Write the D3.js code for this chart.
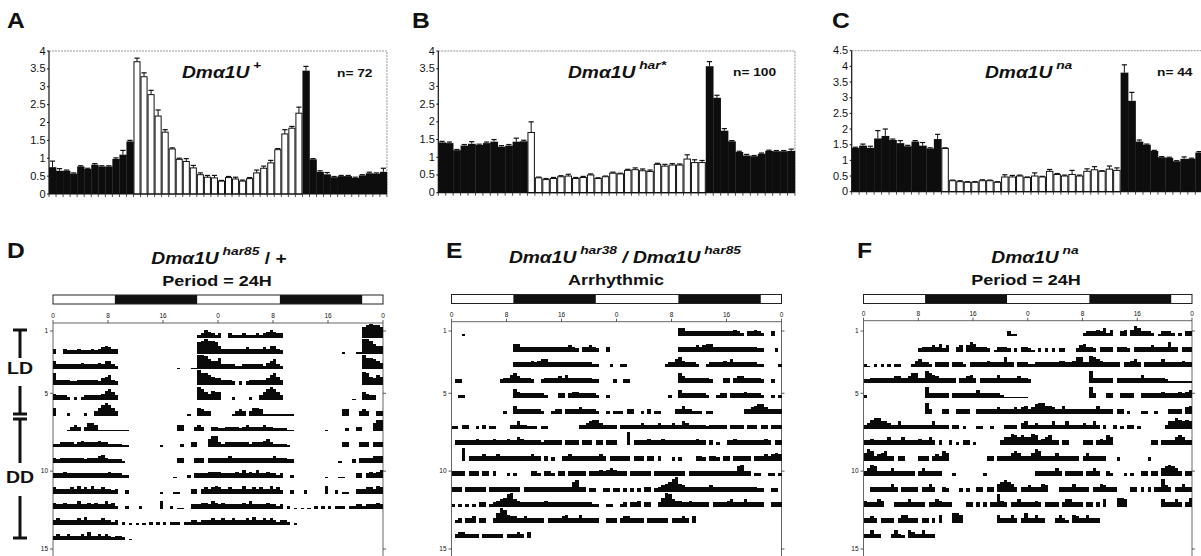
<!DOCTYPE html>
<html><head><meta charset="utf-8">
<script src="https://cdn.jsdelivr.net/npm/d3@7"></script>
<style>
body{margin:0;background:#fff}
svg{display:block}
text{font-family:"Liberation Sans",Arial,Helvetica,sans-serif;fill:#111}
</style>
</head><body>
<svg id="c" width="1201" height="556"></svg>
<script>
// ---------------- DATA ----------------
// Top histograms: 48 half-hour bins (ZT), first 12 dark, 24 light, last 12 dark
const binLabels = d3.range(48);
const lightBins = [12, 36];

const aValues = [0.75,0.65,0.65,0.57,0.77,0.70,0.82,0.77,0.77,0.98,1.10,1.47,
  3.70,3.28,2.78,2.18,1.73,1.26,0.97,0.91,0.73,0.54,0.47,0.45,0.36,0.46,0.42,0.36,0.43,0.59,0.72,0.87,1.24,1.68,1.84,2.26,
  3.45,0.97,0.62,0.55,0.47,0.50,0.50,0.45,0.52,0.58,0.57,0.62];
const aErrors = [0.17,0.06,0.02,0.02,0.02,0.02,0.03,0.02,0.02,0.03,0.12,0.03,
  0.10,0.11,0.12,0.17,0.07,0.03,0.03,0.08,0.07,0.05,0.05,0.07,0.02,0.03,0.05,0.03,0.03,0.08,0.06,0.07,0.03,0.12,0.05,0.17,
  0.12,0.02,0.03,0.05,0.02,0.02,0.02,0.02,0.02,0.03,0.02,0.10];

const bValues = [1.42,1.40,1.20,1.33,1.38,1.35,1.40,1.44,1.30,1.33,1.44,1.45,
  1.70,0.42,0.37,0.40,0.45,0.47,0.40,0.43,0.50,0.40,0.45,0.55,0.53,0.63,0.65,0.62,0.60,0.80,0.75,0.78,0.78,0.95,0.85,0.85,
  3.57,2.68,1.75,1.45,1.15,1.05,1.03,1.10,1.18,1.17,1.17,1.18];
const bErrors = [0.03,0.03,0.02,0.03,0.06,0.02,0.03,0.06,0.03,0.03,0.10,0.03,
  0.30,0.02,0.03,0.03,0.03,0.05,0.03,0.03,0.03,0.02,0.02,0.03,0.02,0.03,0.05,0.05,0.04,0.03,0.05,0.04,0.03,0.12,0.08,0.06,
  0.13,0.07,0.06,0.02,0.02,0.03,0.02,0.02,0.02,0.02,0.02,0.05];

const cValues = [1.40,1.47,1.40,1.70,1.78,1.65,1.55,1.45,1.60,1.47,1.38,1.68,
  1.38,0.35,0.32,0.30,0.30,0.35,0.35,0.30,0.47,0.47,0.50,0.45,0.50,0.47,0.65,0.55,0.50,0.55,0.50,0.65,0.70,0.65,0.72,0.68,
  3.80,2.90,1.60,1.50,1.30,1.10,1.08,0.97,1.05,1.05,1.25,1.20];
const cErrors = [0.02,0.05,0.05,0.25,0.22,0.03,0.08,0.03,0.03,0.10,0.02,0.15,
  0.02,0.02,0.03,0.02,0.02,0.03,0.02,0.02,0.07,0.05,0.03,0.02,0.10,0.02,0.06,0.03,0.03,0.13,0.03,0.08,0.10,0.02,0.10,0.08,
  0.25,0.27,0.05,0.02,0.02,0.02,0.02,0.02,0.06,0.02,0.03,0.03];

const abTicks = [0,0.5,1,1.5,2,2.5,3,3.5,4];
const cTicks = [0,0.5,1,1.5,2,2.5,3,3.5,4,4.5];

// Actograms: one string per day, 48 half-hour bins, activity level 0-9
const dDays = [
 "000000 000000 000000 000000 000000 000000 000000 235432",
 "300322 232223 234543 300000 000000 000000 000000 789887",
 "533333 334333 343553 200000 000000 000000 100011 998655",
 "733332 233333 324563 200000 000000 000000 000000 977654",
 "433320 202333 334675 300000 000000 000000 000000 875465",
 "500020 000200 357875 300000 000000 000000 000100 543300",
 "000013 430355 411111 111100 000000 000000 440003 430033",
 "223333 234333 343322 221100 000000 010000 020033 000577",
 "323333 333233 345322 221000 000000 000000 330003 330333",
 "333433 333333 333343 332200 000000 000001 000203 333444",
 "433334 353435 334332 300200 000000 010001 100033 034345",
 "433433 353343 433534 200200 020000 050020 110033 344354",
 "343333 343533 334332 302010 101020 202022 202233 233343",
 "343343 334353 343432 332010 000000 000000 000000 000000",
 "000000 000000 000000 000000 000000 000000 000000 000000"];
const eDays = [
 "000100 000000 000000 000000 000000 000000 000000 000000",
 "000000 000000 000000 553333 333333 333343 203343 200300",
 "000000 000000 000000 333334 345533 333333 333332 200020",
 "022000 000000 002335 643332 002333 343533 333332 200002",
 "002200 000000 000000 643333 333200 033034 433333 200200",
 "000000 000000 000200 533333 332002 330333 343333 200202",
 "220330 020302 200003 353322 202200 000000 033456 643333",
 "033333 343333 433343 354333 332333 330333 303330 330333",
 "000803 333433 343333 333334 330302 003343 333333 343033",
 "333303 330330 300020 200003 320332 033033 333033 343454",
 "333033 333303 333333 330333 333333 333336 733022 002202",
 "202020 203302 345689 543333 333433 333333 333332 200220",
 "023033 403300 369854 433433 333033 334533 353333 300333",
 "034433 330333 333033 343040 000000 000000 000000 000000",
 "000000 000000 000000 000000 000000 000000 000000 000000"];
const fDays = [
 "000000 000000 000000 000000 000000 000000 000000 311000",
 "000000 000000 000023 334352 400340 465333 201333 202033",
 "210202 020220 002453 320333 303332 033333 433336 330333",
 "223333 333443 346633 765433 333033 453033 333533 333433",
 "200000 000000 000000 733333 303333 333533 333321 111111",
 "000000 000000 000000 730003 300333 300333 333433 334345",
 "346775 543353 333333 335333 303302 000220 020003 333045",
 "334333 353335 333343 353030 030203 302000 000035 576565",
 "576345 633033 000033 303436 500000 000000 330333 356533",
 "357633 335333 333035 333330 002000 000002 000000 000000",
 "003333 335303 333303 353003 200020 200330 330567 653033",
 "433354 000333 353333 033543 330000 330303 033843 033533",
 "334303 333035 533303 303050 006650 000000 000533 353036",
 "335330 003532 054335 333000 000000 000000 000000 000000",
 "000000 000000 000000 000000 000000 000000 000000 000000"];

const lightSchedule = [[0,9,"light"],[9,21,"dark"],[21,33,"light"],[33,45,"dark"],[45,48,"light"]];
const hourTicks = [0,8,16,24,32,40,48];
const hourLabels = ["0","8","16","0","8","16","0"];
const rowTicks = [1,5,10,15];

// ---------------- DRAWING ----------------
const svg = d3.select("#c");
const SX = 1.2; // horizontal stretch of the bold lettering

function sText(x, y, size, sx, anchor, weight) {
  const g = svg.append("g").attr("transform", `translate(${x},${y}) scale(${sx},1)`);
  return g.append("text").attr("x",0).attr("y",0)
    .attr("text-anchor", anchor || "start")
    .attr("font-size", size).attr("font-weight", weight || "bold");
}

// panel letters
[["A",7,28],["B",412,28],["C",832,28],["D",7,258],["E",446,258],["F",857,258]].forEach(([t,x,y]) => {
  sText(x, y, 22, 1.12, "start").text(t);
});

function genoTitle(text, x, y, size, parts) {
  parts.forEach(p => {
    const ts = text.append("tspan").text(p.t);
    if (p.it) ts.attr("font-style","italic");
    if (p.sup) ts.attr("font-size", size*0.72).attr("dy", -size*0.55);
    if (p.down) ts.attr("dy", size*0.55);
  });
}

function topChart(cfg) {
  const n = cfg.values.length;
  const x = d3.scaleBand().domain(binLabels).range([cfg.x0, cfg.x0 + cfg.bw*n]).padding(0);
  const y = d3.scaleLinear().domain([0, cfg.maxV]).range([cfg.yBase, cfg.yTop]);
  const g = svg.append("g");
  const xEnd = cfg.x0 + cfg.bw*n;
  // light grey frame (top/right)
  g.append("path")
    .attr("d", `M${cfg.x0},${cfg.yTop}H${xEnd}V${cfg.yBase}`)
    .attr("fill","none").attr("stroke","#8a8a8a").attr("stroke-width",0.9).attr("stroke-dasharray","2,1");
  const bars = binLabels.map(i => ({i, v: cfg.values[i], e: cfg.errors[i], light: i>=lightBins[0] && i<lightBins[1]}));
  // error bars
  bars.forEach(d => {
    const cx = x(d.i) + x.bandwidth()/2;
    g.append("line").attr("x1",cx).attr("x2",cx).attr("y1",y(d.v)).attr("y2",y(d.v+d.e))
      .attr("stroke","#111").attr("stroke-width",1);
    g.append("line").attr("x1",cx-2.6).attr("x2",cx+2.6).attr("y1",y(d.v+d.e)).attr("y2",y(d.v+d.e))
      .attr("stroke","#111").attr("stroke-width",1.2);
  });
  g.selectAll("rect.bar").data(bars).join("rect").attr("class","bar")
    .attr("x", d => x(d.i) + (d.light?0.5:0))
    .attr("width", d => x.bandwidth() - (d.light?1:0) + (d.light?0:0.3))
    .attr("y", d => y(d.v))
    .attr("height", d => cfg.yBase - y(d.v))
    .attr("fill", d => d.light ? "#fff" : "#0d0d0d")
    .attr("stroke", d => d.light ? "#111" : "none")
    .attr("stroke-width", 1);
  // axes
  g.append("line").attr("x1",cfg.x0).attr("x2",cfg.x0).attr("y1",cfg.yTop).attr("y2",cfg.yBase).attr("stroke","#111").attr("stroke-width",1.2);
  g.append("line").attr("x1",cfg.x0).attr("x2",xEnd).attr("y1",cfg.yBase).attr("y2",cfg.yBase).attr("stroke","#111").attr("stroke-width",1.2);
  binLabels.concat([n]).forEach(i => {
    const tx = cfg.x0 + cfg.bw*i;
    g.append("line").attr("x1",tx).attr("x2",tx).attr("y1",cfg.yBase).attr("y2",cfg.yBase+3).attr("stroke","#222").attr("stroke-width",0.8);
  });
  cfg.ticks.forEach(t => {
    g.append("line").attr("x1",cfg.x0-2).attr("x2",cfg.x0).attr("y1",y(t)).attr("y2",y(t)).attr("stroke","#111");
    sText(cfg.x0-3.5, y(t)+3.5, 10, 1.1, "end", "normal").text(String(t));
  });
}

topChart({x0:49, bw:7.04, yBase:194, yTop:51, maxV:4, values:aValues, errors:aErrors, ticks:abTicks});
topChart({x0:438.3, bw:7.43, yBase:192.7, yTop:51, maxV:4, values:bValues, errors:bErrors, ticks:abTicks});
topChart({x0:851.7, bw:7.47, yBase:191.7, yTop:50.7, maxV:4.5, values:cValues, errors:cErrors, ticks:cTicks});

// top titles
genoTitle(sText(182,77.5,16,SX,"start"), 0,0,16,[{t:"Dm",it:1},{t:"α",it:1},{t:"1U",it:1},{t:" +",sup:1}]);
genoTitle(sText(568,77.5,16,SX,"start"), 0,0,16,[{t:"Dm",it:1},{t:"α",it:1},{t:"1U",it:1},{t:" har*",sup:1,it:1}]);
genoTitle(sText(985,77.5,16,SX,"start"), 0,0,16,[{t:"Dm",it:1},{t:"α",it:1},{t:"1U",it:1},{t:" na",sup:1,it:1}]);
sText(337,76.5,11,1.25,"start").text("n= 72");
sText(733,76,11,1.25,"start").text("n= 100");
sText(1157,76,11,1.25,"start").text("n= 44");

// middle titles
genoTitle(sText(219,264,16,SX,"middle"),0,0,16,[{t:"Dmα1U",it:1},{t:" har85",sup:1,it:1},{t:" / +",down:1}]);
sText(217,285.7,15,SX,"middle").text("Period = 24H");
genoTitle(sText(625,263,16,SX,"middle"),0,0,16,[{t:"Dmα1U",it:1},{t:" har38",sup:1,it:1},{t:" / Dmα1U",down:1,it:1},{t:" har85",sup:1,it:1}]);
sText(616,285.3,15,SX,"middle").text("Arrhythmic");
genoTitle(sText(1035,263,16,SX,"middle"),0,0,16,[{t:"Dmα1U",it:1},{t:" na",sup:1,it:1}]);
sText(1026,285.3,15,SX,"middle").text("Period = 24H");

function actogram(cfg) {
  const x = d3.scaleLinear().domain([0,48]).range([cfg.x0, cfg.x1]);
  const row = d3.scaleLinear().domain([1,15]).range([331, 549]);
  const h = d3.scaleLinear().domain([0,9]).range([0,14.5]);
  const g = svg.append("g");
  // light/dark bar
  lightSchedule.forEach(s => {
    g.append("rect").attr("x", x(s[0])).attr("y", cfg.barY).attr("width", x(s[1])-x(s[0])).attr("height", 9)
      .attr("fill", s[2]==="dark" ? "#111" : "#fff");
  });
  g.append("rect").attr("x", x(0)).attr("y", cfg.barY).attr("width", x(48)-x(0)).attr("height", 9)
    .attr("fill","none").attr("stroke","#222").attr("stroke-width",1);
  // frame
  g.append("path").attr("d", `M${x(0)},556V${cfg.axisY}H${x(48)}V556`)
    .attr("fill","none").attr("stroke","#555").attr("stroke-width",0.9);
  // top ticks & labels
  hourTicks.forEach((t,i) => {
    g.append("line").attr("x1",x(t)).attr("x2",x(t)).attr("y1",cfg.axisY).attr("y2",cfg.axisY-3).attr("stroke","#333").attr("stroke-width",0.8);
    g.append("text").attr("x",x(t)).attr("y",cfg.axisY-5).attr("text-anchor","middle").attr("font-size",6.5).text(hourLabels[i]);
  });
  // row ticks
  rowTicks.forEach(r => {
    g.append("line").attr("x1",x(0)-3).attr("x2",x(0)).attr("y1",row(r)).attr("y2",row(r)).attr("stroke","#333").attr("stroke-width",0.8);
    g.append("line").attr("x1",x(48)).attr("x2",x(48)+3).attr("y1",row(r)).attr("y2",row(r)).attr("stroke","#333").attr("stroke-width",0.8);
    g.append("text").attr("x",x(0)-5).attr("y",row(r)+2.3).attr("text-anchor","end").attr("font-size",6.5).text(r);
  });
  // activity (double plotted: row r shows day r-1 then day r)
  const cells = [];
  for (let r = 1; r <= 14; r++) {
    [cfg.days[r-1], cfg.days[r]].forEach((str, half) => {
      const s = str.replace(/ /g, "");
      for (let k = 0; k < s.length; k++) {
        const v = +s[k];
        if (v > 0) cells.push({r, t: half*24 + k*0.5, v});
      }
    });
  }
  g.selectAll("rect.act").data(cells).join("rect").attr("class","act")
    .attr("x", d => x(d.t)).attr("width", d => x(d.t+0.5) - x(d.t))
    .attr("y", d => row(d.r) + cfg.baseOff - h(d.v)).attr("height", d => h(d.v))
    .attr("fill","#0a0a0a").attr("shape-rendering","crispEdges");
}

actogram({x0:53, x1:383, barY:295, axisY:323, days:dDays, baseOff:7});
actogram({x0:451.5, x1:781.5, barY:294.5, axisY:321.7, days:eDays, baseOff:5});
actogram({x0:863.5, x1:1192, barY:294.5, axisY:320.7, days:fDays, baseOff:5});

// LD / DD bracket
const br = svg.append("g").attr("stroke","#111").attr("stroke-width",3).attr("fill","none");
[[330,358],[386,414],[419,463],[496,538]].forEach(([a,b]) => br.append("line").attr("x1",20).attr("x2",20).attr("y1",a).attr("y2",b));
[330,414,419,538].forEach(yy => br.append("line").attr("x1",13).attr("x2",27).attr("y1",yy).attr("y2",yy));
sText(20,374,16,1.22,"middle").text("LD");
sText(20,483,16,1.22,"middle").text("DD");
</script>
</body></html>
